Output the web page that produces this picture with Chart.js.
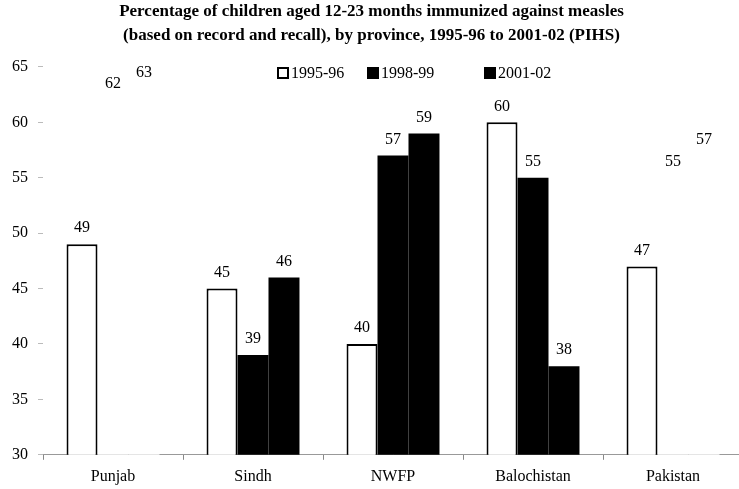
<!DOCTYPE html>
<html>
<head>
<meta charset="utf-8">
<script src="https://cdn.jsdelivr.net/npm/chart.js@4/dist/chart.umd.min.js"></script>
<style>
  html, body { margin: 0; padding: 0; background: #fff; overflow: hidden; }
  #wrap { width: 743px; height: 493px; }
</style>
</head>
<body>
<div id="wrap"><canvas id="chart" width="743" height="493"></canvas></div>
<script>
const titleLines = [
  "Percentage of children aged 12-23 months immunized against measles",
  "(based on record and recall), by province, 1995-96 to 2001-02 (PIHS)"
];
const provinces = ["Punjab", "Sindh", "NWFP", "Balochistan", "Pakistan"];
const seriesNames = ["1995-96", "1998-99", "2001-02"];
const values9596 = [49, 45, 40, 60, 47];
const values9899 = [62, 39, 57, 55, 55];
const values0102 = [63, 46, 59, 38, 57];
const yTicks = [30, 35, 40, 45, 50, 55, 60, 65];
// in the scan the dark bars for these two groups came out blank
const blankDark = ["Punjab", "Pakistan"];

const serif = "'Liberation Serif', 'Times New Roman', serif";

function darkFill(ctx) {
  return blankDark.includes(provinces[ctx.dataIndex]) ? "#ffffff" : "#000000";
}

const valueLabels = {
  id: "valueLabels",
  afterDatasetsDraw(chart) {
    const c = chart.ctx;
    c.save();
    c.font = "16px " + serif;
    c.fillStyle = "#000";
    c.textAlign = "center";
    c.textBaseline = "middle";
    chart.data.datasets.forEach((ds, i) => {
      chart.getDatasetMeta(i).data.forEach((bar, j) => {
        c.fillText(String(ds.data[j]), bar.x, bar.y - 16);
      });
    });
    c.restore();
  }
};

const boxLegend = {
  id: "boxLegend",
  afterDraw(chart) {
    const c = chart.ctx;
    const xs = [278, 368, 485];
    c.save();
    c.font = "16px " + serif;
    c.textBaseline = "middle";
    c.textAlign = "left";
    chart.data.datasets.forEach((ds, i) => {
      const x = xs[i], y = 73;
      if (i === 0) {
        c.fillStyle = "#fff";
        c.fillRect(x, y - 5, 10, 10);
        c.strokeStyle = "#000";
        c.lineWidth = 2;
        c.strokeRect(x, y - 5, 10, 10);
      } else {
        c.fillStyle = "#000";
        c.fillRect(x - 1, y - 6, 12, 12);
      }
      c.fillStyle = "#000";
      c.fillText(ds.label, x + 13, y + 1);
    });
    c.restore();
  }
};

new Chart(document.getElementById("chart").getContext("2d"), {
  type: "bar",
  data: {
    labels: provinces,
    datasets: [
      {
        label: seriesNames[0],
        data: values9596,
        backgroundColor: "#ffffff",
        borderColor: "#000000",
        borderWidth: 2,
        borderSkipped: false
      },
      {
        label: seriesNames[1],
        data: values9899,
        backgroundColor: darkFill,
        borderWidth: 0
      },
      {
        label: seriesNames[2],
        data: values0102,
        backgroundColor: darkFill,
        borderWidth: 0
      }
    ]
  },
  options: {
    responsive: false,
    animation: false,
    layout: { padding: { left: 0, right: 0, top: 0, bottom: 0 } },
    datasets: {
      bar: { categoryPercentage: 0.664, barPercentage: 1.0 }
    },
    plugins: {
      legend: { display: false },
      tooltip: { enabled: false },
      title: {
        display: true,
        text: titleLines,
        color: "#000",
        font: { family: serif, size: 17, weight: "bold", lineHeight: 1.41 },
        padding: { top: 0, bottom: 19 }
      }
    },
    scales: {
      x: {
        grid: {
          display: true,
          offset: true,
          drawOnChartArea: false,
          drawTicks: true,
          tickLength: 5,
          color: "#888"
        },
        border: { display: true, color: "#999", width: 1 },
        ticks: {
          color: "#000",
          font: { family: serif, size: 16 },
          padding: 7
        }
      },
      y: {
        min: 30,
        max: 65,
        afterFit(scale) { scale.width = 43; },
        afterBuildTicks(scale) { scale.ticks = yTicks.map(v => ({ value: v })); },
        grid: {
          display: true,
          drawOnChartArea: false,
          drawTicks: true,
          tickLength: 5,
          color: "#bbb"
        },
        border: { display: false },
        ticks: {
          color: "#000",
          font: { family: serif, size: 16 },
          padding: 10
        }
      }
    }
  },
  plugins: [valueLabels, boxLegend]
});
</script>
</body>
</html>
